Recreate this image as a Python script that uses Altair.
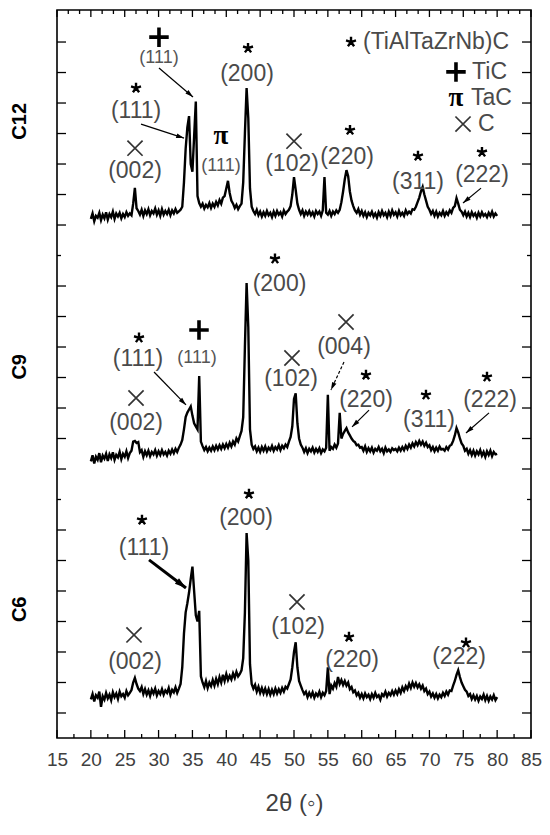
import math
import altair as alt
import pandas as pd

# ---------------- data ----------------
TWO_THETA_START = 20.0
TWO_THETA_STEP = 0.25

C6_INTENSITY = (
    [45, 62, 38, 58, 50, 70, 20, 55, 44, 66, 48, 60, 42, 68, 52, 64, 46, 70, 55, 62]
    + [50, 72, 58, 66, 75, 100, 115, 95, 80, 72, 85, 62, 78, 60, 74, 56, 76, 64, 80, 58]
    + [72, 62, 78, 60, 74, 66, 82, 60, 76, 68, 84, 66, 80, 95, 150, 260, 330, 360, 395, 440]
    + [480, 400, 320, 300, 335, 120, 100, 85, 105, 82, 100, 88, 108, 90, 112, 95, 118, 100, 125, 105]
    + [128, 108, 122, 110, 130, 115, 135, 120, 128, 140, 180, 330, 590, 500, 160, 95, 80, 92, 70, 86]
    + [66, 82, 64, 80, 62, 78, 60, 76, 62, 80, 64, 78, 66, 82, 70, 86, 80, 95, 110, 150]
    + [200, 232, 150, 105, 90, 75, 62, 70, 52, 66, 54, 68, 50, 64, 56, 70, 52, 66, 58, 72]
    + [150, 62, 90, 80, 98, 86, 118, 95, 108, 92, 105, 90, 100, 78, 85, 68, 74, 58, 66, 50]
    + [62, 48, 64, 52, 60, 46, 62, 50, 66, 52, 58, 44, 62, 56, 70, 54, 66, 58, 72, 60]
    + [74, 62, 78, 66, 84, 72, 88, 78, 96, 82, 100, 86, 98, 84, 94, 80, 90, 72, 80, 62]
    + [70, 54, 64, 50, 62, 48, 60, 52, 66, 56, 70, 60, 74, 72, 90, 105, 125, 140, 118, 100]
    + [88, 76, 70, 56, 62, 46, 58, 44, 56, 40, 54, 46, 60, 42, 56, 40, 54, 44, 58, 42]
    + [52]
)

C9_INTENSITY = (
    [25, 45, 18, 40, 30, 52, 22, 44, 34, 50, 26, 48, 36, 55, 30, 46, 38, 56, 32, 50]
    + [40, 58, 36, 52, 60, 90, 92, 85, 88, 55, 62, 40, 58, 45, 60, 42, 56, 48, 62, 44]
    + [58, 46, 62, 48, 56, 44, 60, 50, 64, 52, 66, 56, 70, 80, 95, 130, 170, 185, 195, 205]
    + [175, 150, 140, 130, 305, 90, 75, 62, 72, 58, 70, 60, 74, 62, 76, 64, 78, 66, 80, 68]
    + [82, 70, 86, 74, 90, 80, 100, 90, 108, 125, 170, 400, 610, 465, 130, 80, 66, 74, 58, 70]
    + [56, 72, 60, 74, 58, 70, 62, 76, 60, 72, 64, 78, 62, 76, 68, 80, 72, 90, 105, 140]
    + [230, 248, 150, 100, 80, 70, 56, 68, 52, 66, 58, 70, 54, 66, 56, 68, 52, 64, 58, 70]
    + [243, 60, 72, 66, 80, 70, 84, 184, 100, 115, 125, 134, 120, 110, 100, 92, 88, 78, 80, 70]
    + [72, 60, 74, 56, 68, 58, 70, 54, 66, 60, 72, 58, 66, 52, 70, 58, 64, 56, 68, 62]
    + [66, 58, 70, 60, 72, 62, 76, 66, 80, 70, 84, 74, 88, 78, 92, 80, 90, 76, 86, 72]
    + [78, 62, 72, 58, 70, 60, 74, 64, 66, 60, 72, 64, 76, 80, 92, 110, 134, 120, 100, 84]
    + [76, 60, 66, 50, 62, 46, 60, 44, 58, 48, 62, 44, 56, 40, 58, 46, 60, 42, 56, 48]
    + [50]
)

C12_INTENSITY = (
    [20, 38, 12, 30, 24, 40, 16, 34, 22, 42, 18, 36, 26, 44, 20, 38, 28, 40, 22, 36]
    + [26, 42, 30, 38, 32, 70, 122, 55, 46, 34, 50, 30, 48, 36, 52, 32, 46, 38, 54, 34]
    + [48, 30, 52, 34, 46, 36, 50, 32, 48, 38, 52, 40, 45, 50, 60, 140, 250, 320, 357, 200]
    + [175, 290, 405, 95, 72, 60, 70, 54, 66, 58, 72, 56, 70, 60, 76, 64, 82, 70, 90, 95]
    + [120, 145, 105, 80, 70, 56, 66, 52, 62, 70, 140, 300, 449, 350, 120, 60, 46, 36, 50, 32]
    + [44, 28, 42, 30, 46, 32, 40, 26, 44, 30, 46, 34, 42, 28, 48, 36, 44, 50, 62, 100]
    + [157, 115, 70, 50, 36, 48, 30, 44, 34, 46, 32, 42, 28, 46, 36, 44, 30, 48, 157, 40]
    + [34, 46, 30, 44, 36, 48, 40, 50, 75, 110, 150, 180, 160, 110, 80, 62, 48, 40, 52, 34]
    + [46, 30, 42, 26, 40, 32, 44, 28, 38, 24, 42, 30, 46, 32, 40, 26, 44, 30, 48, 34]
    + [42, 28, 46, 32, 40, 30, 48, 36, 44, 38, 52, 50, 60, 75, 90, 110, 125, 100, 80, 60]
    + [50, 36, 46, 30, 44, 28, 40, 32, 46, 30, 42, 34, 48, 40, 56, 62, 88, 70, 50, 44]
    + [32, 44, 28, 40, 26, 42, 30, 38, 24, 40, 28, 42, 30, 36, 26, 40, 30, 44, 28, 38]
    + [30]
)

SAMPLES = ["C6", "C9", "C12"]
SAMPLE_OFFSETS = [100, 900, 1700]
SAMPLE_LABEL_Y = [440, 1235, 2040]

X_DOMAIN = [15, 85]
Y_DOMAIN = [18, 2405]
X_MAJOR = [15, 20, 25, 30, 35, 40, 45, 50, 55, 60, 65, 70, 75, 80, 85]
X_MINOR = [17.5, 22.5, 27.5, 32.5, 37.5, 42.5, 47.5, 52.5, 57.5, 62.5, 67.5, 72.5, 77.5, 82.5]
X_TOP = [15 + 5 * k / 3 for k in range(43)]
Y_MAJOR = [100, 200, 300, 400, 500, 600, 700,
           900, 1000, 1100, 1200, 1300, 1400, 1500,
           1700, 1800, 1900, 2000, 2100, 2200, 2300]
Y_MINOR = [800, 1600]

# phase symbols
STAR_X = [26.67, 43.21, 58.27, 68.31, 77.76, 58.42, 27.11, 47.19, 60.63, 69.49, 78.5, 27.55, 43.35, 58.12, 75.4]
STAR_Y = [2149, 2280, 2011, 1926, 1939, 2300, 1330, 1589, 1208, 1143, 1202, 733, 818, 349, 330]
PLUS_X = [30.06, 73.92, 35.97]
PLUS_Y = [2316, 2202, 1356]
CROSS_X = [26.52, 50.0, 74.96, 26.67, 49.7, 57.68, 26.37, 50.44]
CROSS_Y = [1952, 1975, 2031, 1133, 1264, 1382, 356, 464]
PI_X = [39.22, 73.92]
PI_Y = [1992, 2116]

# Miller index labels
HKL_TEXT = ["(111)", "(002)", "(200)", "(102)", "(220)", "(311)", "(222)",
            "(200)", "(111)", "(002)", "(102)", "(004)", "(220)", "(311)", "(222)",
            "(200)", "(111)", "(002)", "(102)", "(220)", "(222)"]
HKL_X = [26.67, 26.52, 43.06, 49.71, 57.83, 68.31, 77.76,
         47.86, 26.96, 26.67, 49.56, 57.38, 60.63, 69.94, 78.95,
         42.91, 27.85, 26.52, 50.59, 58.57, 74.37]
HKL_Y = [2074, 1877, 2195, 1900, 1923, 1841, 1864,
         1507, 1261, 1051, 1195, 1300, 1126, 1061, 1126,
         739, 641, 267, 382, 274, 284]
HKL_SMALL_TEXT = ["(111)", "(111)", "(111)"]
HKL_SMALL_X = [30.06, 39.22, 35.68]
HKL_SMALL_Y = [2248, 1893, 1264]

LEGEND_TEXT = ["(TiAlTaZrNb)C", "TiC", "TaC", "C"]
LEGEND_X = [60.19, 76.3, 76.14, 77.17]
LEGEND_Y = [2300, 2202, 2116, 2031]

ARROW_X1 = [30.06, 27.41, 77.62, 29.33, 57.38, 61.08, 78.8, 28.59]
ARROW_Y1 = [2215, 2031, 1821, 1218, 1251, 1093, 1084, 602]
ARROW_X2 = [35.08, 33.76, 74.96, 34.05, 55.46, 58.57, 75.4, 34.05]
ARROW_Y2 = [2120, 1985, 1772, 1110, 1159, 1038, 1018, 510]
ARROW_STYLE = ["thin", "thin", "thin", "thin", "dashed", "thin", "thin", "bold"]

# ---------------- layout / style ----------------
W, H = 474, 728
FONT = "Liberation Sans"
GREY = "#404040"

xs = alt.Scale(domain=X_DOMAIN, nice=False, zero=False)
ys = alt.Scale(domain=Y_DOMAIN, nice=False, zero=False)

X_AXIS = alt.Axis(
    values=X_MAJOR, ticks=False, tickSize=0, domain=False, grid=False,
    labelFont=FONT, labelFontSize=19, labelColor=GREY, labelPadding=12,
    labelFlush=False, labelOverlap=False, format="d",
    title="2θ (◦)", titleFont=FONT, titleFontSize=24, titleFontWeight="normal",
    titleColor=GREY, titlePadding=22)


def X(field="x"):
    return alt.X(f"{field}:Q", scale=xs, axis=X_AXIS)


def Y(field="y"):
    return alt.Y(f"{field}:Q", scale=ys, axis=None)


rows = []
for name, off, vals in zip(SAMPLES, SAMPLE_OFFSETS, [C6_INTENSITY, C9_INTENSITY, C12_INTENSITY]):
    for i, v in enumerate(vals):
        rows.append({"x": TWO_THETA_START + i * TWO_THETA_STEP, "y": off + v, "s": name})
trace_df = pd.DataFrame(rows)

traces = alt.Chart(trace_df).mark_line(color="black", strokeWidth=2.4).encode(
    x=X(), y=Y(), detail="s:N")

layers = [traces]


def xticks(values, y0, y1):
    return alt.Chart(pd.DataFrame({"x": values})).mark_rule(color="black", strokeWidth=1.3).encode(
        x=X(), y=alt.value(y0), y2=alt.value(y1))


def yticks(values, x0, x1):
    return alt.Chart(pd.DataFrame({"y": values})).mark_rule(color="black", strokeWidth=1.3).encode(
        y=Y(), x=alt.value(x0), x2=alt.value(x1))


top_long = [v for v in X_TOP if abs(v / 5 - round(v / 5)) < 1e-6]
top_short = [v for v in X_TOP if abs(v / 5 - round(v / 5)) >= 1e-6]
layers += [
    xticks(X_MAJOR, H, H - 8),
    xticks(X_MINOR, H, H - 4),
    xticks(top_long, 0, 7),
    xticks(top_short, 0, 4),
    yticks(Y_MAJOR, 0, 9),
    yticks(Y_MINOR, 0, 4),
    yticks(Y_MAJOR, W, W - 9),
    yticks(Y_MINOR, W, W - 4),
]

# arrows
px_x = W / (X_DOMAIN[1] - X_DOMAIN[0])
px_y = H / (Y_DOMAIN[1] - Y_DOMAIN[0])
arrow_df = pd.DataFrame({
    "x": ARROW_X1, "y": ARROW_Y1, "xe": ARROW_X2, "ye": ARROW_Y2, "style": ARROW_STYLE,
})
arrow_df["angle"] = [
    math.degrees(math.atan2((x2 - x1) * px_x, (y2 - y1) * px_y)) % 360
    for x1, y1, x2, y2 in zip(ARROW_X1, ARROW_Y1, ARROW_X2, ARROW_Y2)
]

HEAD = "M0,0L0.45,1.5L-0.45,1.5Z"
for style, sw, dash, hsize in [("thin", 1.2, None, 110), ("dashed", 1.2, [3, 2], 110), ("bold", 3.0, None, 230)]:
    sub = arrow_df[arrow_df["style"] == style]
    mk = dict(color="black", strokeWidth=sw)
    if dash:
        mk["strokeDash"] = dash
    layers.append(alt.Chart(sub).mark_rule(**mk).encode(
        x=X("x"), y=Y("y"), x2="xe:Q", y2="ye:Q"))
    head_df = sub.rename(columns={"x": "x0", "y": "y0"}).rename(columns={"xe": "x", "ye": "y"})
    layers.append(alt.Chart(head_df).mark_point(
        shape=HEAD, filled=True, color="black", opacity=1, size=hsize, strokeWidth=0).encode(
        x=X(), y=Y(), angle=alt.Angle("angle:Q", scale=None)))

# phase symbols
STAR = "M0,0L0,-1M0,0L0.951,-0.309M0,0L0.588,0.809M0,0L-0.588,0.809M0,0L-0.951,-0.309"
PLUS = "M-1,0L1,0M0,-1L0,1"
CROSS = "M-1,-1L1,1M-1,1L1,-1"
layers.append(alt.Chart(pd.DataFrame({"x": STAR_X, "y": STAR_Y})).mark_point(
    shape=STAR, filled=False, color="black", opacity=1, size=110, strokeWidth=2.4).encode(x=X(), y=Y()))
layers.append(alt.Chart(pd.DataFrame({"x": PLUS_X, "y": PLUS_Y})).mark_point(
    shape=PLUS, filled=False, color="black", opacity=1, size=380, strokeWidth=3.6, strokeCap="butt").encode(x=X(), y=Y()))
layers.append(alt.Chart(pd.DataFrame({"x": CROSS_X, "y": CROSS_Y})).mark_point(
    shape=CROSS, filled=False, color="#333333", opacity=1, size=230, strokeWidth=1.7).encode(x=X(), y=Y()))
layers.append(alt.Chart(pd.DataFrame({"x": PI_X, "y": PI_Y, "t": ["π"] * len(PI_X)})).mark_text(
    font="Liberation Serif", fontWeight="bold", fontSize=27, color="black", align="center", baseline="middle").encode(
    x=X(), y=Y(), text="t:N"))

# hkl labels
layers.append(alt.Chart(pd.DataFrame({"x": HKL_X, "y": HKL_Y, "t": HKL_TEXT})).mark_text(
    font=FONT, fontSize=23, color="#4a4a4a", align="center", baseline="middle").encode(
    x=X(), y=Y(), text="t:N"))
layers.append(alt.Chart(pd.DataFrame({"x": HKL_SMALL_X, "y": HKL_SMALL_Y, "t": HKL_SMALL_TEXT})).mark_text(
    font=FONT, fontSize=18, color="#555555", align="center", baseline="middle").encode(
    x=X(), y=Y(), text="t:N"))

# legend text
layers.append(alt.Chart(pd.DataFrame({"x": LEGEND_X, "y": LEGEND_Y, "t": LEGEND_TEXT})).mark_text(
    font=FONT, fontSize=23, color="#4a4a4a", align="left", baseline="middle").encode(
    x=X(), y=Y(), text="t:N"))

# sample labels
layers.append(alt.Chart(pd.DataFrame({"y": SAMPLE_LABEL_Y, "t": SAMPLES})).mark_text(
    font=FONT, fontSize=20, fontWeight="bold", color="black", angle=270,
    align="center", baseline="middle").encode(
    x=alt.value(-37), y=Y(), text="t:N"))

chart = alt.layer(*layers).properties(
    width=W, height=H,
    autosize=alt.AutoSizeParams(type="none"),
    padding={"left": 49, "top": 2, "right": 11, "bottom": 90},
).configure_view(stroke="black", strokeWidth=1.6)

chart.save("out.html", embed_options={"renderer": "svg", "actions": False})
